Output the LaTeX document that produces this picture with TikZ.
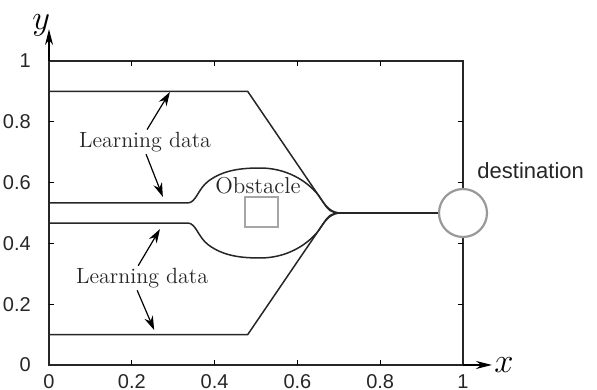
\documentclass[tikz,border=0pt]{standalone}
\usepackage{fontspec}
\newfontfamily\ticksf{Liberation Sans}
\usetikzlibrary{arrows.meta,positioning}

\begin{document}
\begin{tikzpicture}[x=207pt, y=152pt, >=Stealth,
  track/.style={line width=0.75pt, black!85},
  note/.style={font=\fontsize{11}{13}\selectfont, text=black!85, inner sep=1pt},
  pointer/.style={-{Stealth[length=7pt, width=4.5pt]}, line width=0.6pt},
  axis/.style={-{Stealth[length=8pt, width=4pt]}, line width=0.7pt},
  ticklabel/.style={font=\ticksf\fontsize{10}{12}\selectfont, text=black!85}]
  \useasboundingbox (-0.1184,-0.0822) rectangle (1.3237,1.2007);

  % frame, axes and ticks
  \draw[line width=0.7pt, black!85] (0,0) rectangle (1,1);
  \draw[axis] (0,1) -- (0,1.105) coordinate (ytip);
  \draw[axis] (1,0) -- (1.07,0) coordinate (xtip);
  \node (ylab) at (-0.019,1.118) {\fontsize{18}{18}\selectfont$y$};
  \node (xlab) at (1.099,0) {\fontsize{18}{18}\selectfont$x$};
  \foreach \t in {0.2,0.4,0.6,0.8} {
    \draw[line width=0.5pt] (\t,0) -- ++(0,2.5pt);
    \draw[line width=0.5pt] (\t,1) -- ++(0,-2.5pt);
    \draw[line width=0.5pt] (0,\t) -- ++(2.5pt,0);
    \draw[line width=0.5pt] (1,\t) -- ++(-2.5pt,0);
  }
  \foreach \t [count=\i] in {0,0.2,0.4,0.6,0.8,1} {
    \node[ticklabel] (xt\i) at (\t,-0.055) {\t};
    \node[ticklabel, anchor=east] (yt\i) at (-0.027,\t) {\t};
  }

  % destination and obstacle
  \node[circle, draw=black!40, line width=1.1pt, fill=white, minimum size=24pt, inner sep=0pt] (goal) at (1,0.5) {};
  \node[font=\ticksf\fontsize{11}{13}\selectfont, text=black!85, anchor=west, inner sep=0pt] (goallab) at (1.034,0.64) {destination};
  \node[draw=black!35, line width=0.9pt, minimum width=16.5pt, minimum height=15pt, inner sep=0pt] (box) at (0.513,0.503) {};
  \node[note, font=\fontsize{11.5}{13}\selectfont] (obstacle) at (0.505,0.59) {Obstacle};

  % learning paths
  \coordinate (merge) at (0.7,0.5);
  \draw[track] (0,0.9) -- (0.48,0.9) -- (0.665,0.53) .. controls (0.675,0.51) and (0.68,0.502) .. (merge);
  \draw[track] (0,0.1) -- (0.48,0.1) -- (0.665,0.47) .. controls (0.675,0.49) and (0.68,0.498) .. (merge);
  \draw[track] (0,0.533) -- (0.335,0.533) .. controls (0.355,0.533) and (0.36,0.58) .. (0.385,0.605)
    .. controls (0.42,0.64) and (0.46,0.648) .. (0.51,0.648)
    .. controls (0.57,0.648) and (0.62,0.61) .. (0.65,0.56)
    .. controls (0.665,0.53) and (0.675,0.505) .. (merge);
  \draw[track] (0,0.467) -- (0.335,0.467) .. controls (0.355,0.467) and (0.36,0.42) .. (0.385,0.395)
    .. controls (0.42,0.36) and (0.46,0.352) .. (0.51,0.352)
    .. controls (0.57,0.352) and (0.62,0.39) .. (0.65,0.44)
    .. controls (0.665,0.47) and (0.675,0.495) .. (merge);
  \draw[track] (merge) -- (goal);

  % labels with pointers
  \node[note] (learn1) at (0.232,0.734) {Learning data};
  \node[note] (learn2) at (0.225,0.286) {Learning data};
  \coordinate (tip1) at (0.292,0.898);
  \coordinate (tip2) at (0.275,0.553);
  \coordinate (tip3) at (0.268,0.447);
  \coordinate (tip4) at (0.254,0.115);
  \draw[pointer] ([xshift=1pt]learn1.north) -- (tip1);
  \draw[pointer] ([xshift=0.5pt]learn1.south) -- (tip2);
  \draw[pointer] ([xshift=-2pt]learn2.north) -- (tip3);
  \draw[pointer] ([xshift=-2.5pt]learn2.south) -- (tip4);
\end{tikzpicture}
\end{document}
